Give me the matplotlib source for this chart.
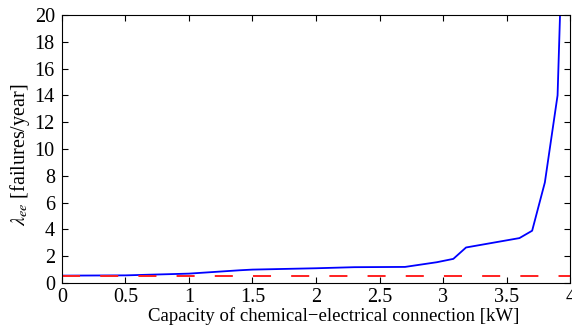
import numpy as np
import matplotlib.pyplot as plt

# capacity [kW] and failure rate of the chemical-electrical connection
capacity = [0.0, 0.5, 1.0, 1.4, 1.5, 2.0, 2.3, 2.7, 2.95, 3.08, 3.18, 3.6, 3.7, 3.8, 3.9, 4.0]
lambda_ee = [0.55, 0.57, 0.7, 0.95, 1.0, 1.1, 1.18, 1.2, 1.55, 1.8, 2.65, 3.35, 3.9, 7.5, 14.0, 45.0]

# reference level (constant)
ref_x = [0.0, 4.0]
ref_y = [0.55, 0.55]

plt.rcParams['font.family'] = ['Liberation Serif', 'DejaVu Serif']
plt.rcParams['mathtext.fontset'] = 'stix'
plt.rcParams['lines.scale_dashes'] = False

fig, ax = plt.subplots(figsize=(5.72, 3.31), dpi=100)
fig.subplots_adjust(left=0.108, right=0.997, top=0.955, bottom=0.145)

ax.plot(capacity, lambda_ee, color='#0000ff', lw=1.3)
ax.plot(ref_x, ref_y, color='#ff2020', lw=1.4, dashes=(13, 14.5))

ax.set_xlim(0, 4)
ax.set_ylim(0, 20)
ax.set_xticks(np.arange(0, 4.01, 0.5))
ax.set_xticklabels(['0', '0.5', '1', '1.5', '2', '2.5', '3', '3.5', '4'])
ax.set_yticks(np.arange(0, 21, 2))
ax.tick_params(direction='in', top=True, right=True, length=4, labelsize=14.5)
ax.tick_params(axis='x', pad=3.5)
ax.tick_params(axis='y', pad=5)

ax.set_xlabel('Capacity of chemical\u2212electrical connection [kW]', fontsize=13.5)
ax.set_ylabel(r'$\lambda_{ee}$ [failures/year]', fontsize=14.5)
ax.xaxis.set_label_coords(0.534, -0.09)
ax.yaxis.set_label_coords(-0.058, 0.478)

fig.savefig('out.png', dpi=100)
